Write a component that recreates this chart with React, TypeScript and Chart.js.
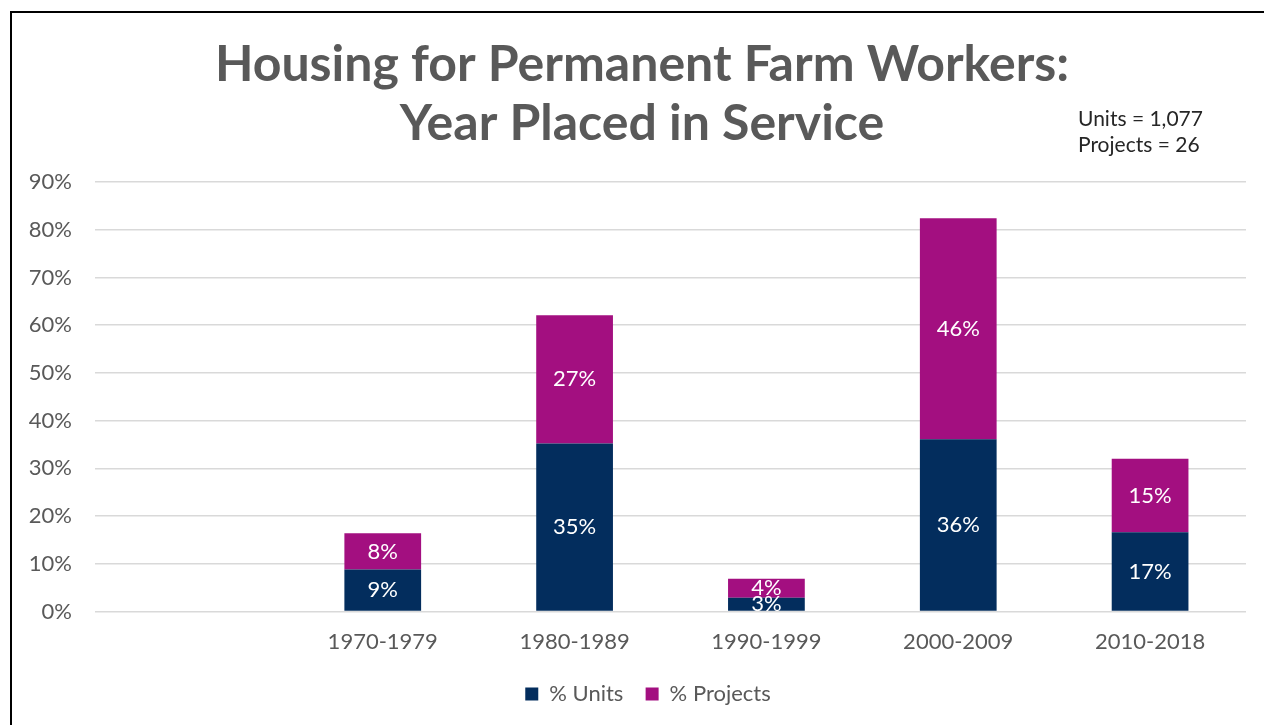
import React, { useEffect, useRef } from "react";
import { Chart, registerables } from "chart.js";

Chart.register(...registerables);

const categories = ["", "1970-1979", "1980-1989", "1990-1999", "2000-2009", "2010-2018"];
const unitsPct = [null, 8.8, 35.2, 2.9, 36.1, 16.6];
const projectsPct = [null, 7.6, 26.9, 4.0, 46.3, 15.4];
const yTicks = [0, 10, 20, 30, 40, 50, 60, 70, 80, 90];
const titleLines = ["Housing for Permanent Farm Workers:", "Year Placed in Service"];
const noteLines = ["Units = 1,077", "Projects = 26"];

const FONT = "Lato, 'Noto Sans', sans-serif";
const NAVY = "#032d5d";
const MAGENTA = "#a30f80";
const GREY_TEXT = "#595959";

const segmentLabels = {
  id: "segmentLabels",
  afterDatasetsDraw(chart: any) {
    const ctx = chart.ctx;
    ctx.save();
    ctx.font = `22px ${FONT}`;
    ctx.fillStyle = "#ffffff";
    ctx.textAlign = "center";
    ctx.textBaseline = "middle";
    chart.data.datasets.forEach((ds: any, di: number) => {
      const meta = chart.getDatasetMeta(di);
      meta.data.forEach((el: any, i: number) => {
        const v = ds.data[i];
        if (v == null) return;
        const y = (el.y + el.base) / 2;
        ctx.fillText(`${Math.round(v)}%`, el.x, y);
      });
    });
    ctx.restore();
  },
};

const headerText = {
  id: "headerText",
  afterDraw(chart: any) {
    const ctx = chart.ctx;
    ctx.save();
    ctx.font = `bold 50px ${FONT}`;
    ctx.fillStyle = GREY_TEXT;
    ctx.textAlign = "center";
    ctx.textBaseline = "middle";
    ctx.fillText(titleLines[0], 642, 64.5);
    ctx.fillText(titleLines[1], 642, 123.5);
    ctx.font = `21px ${FONT}`;
    ctx.fillStyle = "#262626";
    ctx.textAlign = "left";
    ctx.textBaseline = "alphabetic";
    ctx.fillText(noteLines[0], 1078, 126);
    ctx.fillText(noteLines[1], 1078, 152);
    ctx.restore();
  },
};

const legendShift = {
  id: "legendShift",
  afterLayout(chart: any) {
    if (chart.legend) chart.legend.left += 50;
  },
};

export default function App() {
  const ref = useRef<HTMLCanvasElement | null>(null);

  useEffect(() => {
    document.body.style.overflow = "hidden";
    const canvas = ref.current;
    if (!canvas) return;
    const chart = new Chart(canvas, {
      type: "bar",
      data: {
        labels: categories,
        datasets: [
          {
            label: "% Units",
            data: unitsPct as any,
            backgroundColor: NAVY,
            categoryPercentage: 1,
            barPercentage: 0.4,
          },
          {
            label: "% Projects",
            data: projectsPct as any,
            backgroundColor: MAGENTA,
            categoryPercentage: 1,
            barPercentage: 0.4,
          },
        ],
      },
      options: {
        responsive: false,
        animation: false,
        layout: { padding: { left: 0, right: 18, top: 0, bottom: 10 } },
        plugins: {
          title: {
            display: true,
            text: titleLines,
            color: "rgba(0,0,0,0)",
            font: { family: FONT, size: 50, weight: "bold", lineHeight: 1.18 },
            padding: { top: 35, bottom: 29 },
          },
          legend: {
            position: "bottom",
            labels: {
              color: GREY_TEXT,
              font: { family: FONT, size: 22 },
              boxWidth: 13,
              boxHeight: 13,
              padding: 11,
              generateLabels: (c: any) =>
                Chart.defaults.plugins.legend.labels
                  .generateLabels(c)
                  .map((l: any, i: number, arr: any[]) => ({
                    ...l,
                    text: i < arr.length - 1 ? l.text + "  " : l.text,
                  })),
            },
          },
          tooltip: { enabled: false },
        },
        scales: {
          x: {
            stacked: true,
            grid: { display: false, drawTicks: false },
            border: { display: false },
            ticks: { color: GREY_TEXT, font: { family: FONT, size: 22 }, padding: 17 },
          },
          y: {
            stacked: true,
            min: 0,
            max: 90,
            afterFit(scale: any) {
              scale.width = 95;
            },
            afterBuildTicks(scale: any) {
              scale.ticks = yTicks.map((v) => ({ value: v }));
            },
            grid: { color: "#d9d9d9", lineWidth: 1.5, drawTicks: false },
            border: { display: false },
            ticks: {
              color: GREY_TEXT,
              font: { family: FONT, size: 22 },
              padding: 23,
              callback: (v: any) => `${v}%`,
            },
          },
        },
      },
      plugins: [segmentLabels, headerText, legendShift],
    });
    return () => chart.destroy();
  }, []);

  return (
    <div style={{ position: "fixed", left: 0, top: 0, width: 1264, height: 725, background: "#fff" }}>
      <canvas ref={ref} width={1264} height={725} style={{ display: "block" }} />
      <div
        style={{
          position: "absolute",
          left: 10,
          top: 11,
          width: 1254,
          height: 714,
          borderLeft: "2px solid #000",
          borderTop: "2px solid #000",
          boxSizing: "border-box",
          pointerEvents: "none",
        }}
      />
    </div>
  );
}
